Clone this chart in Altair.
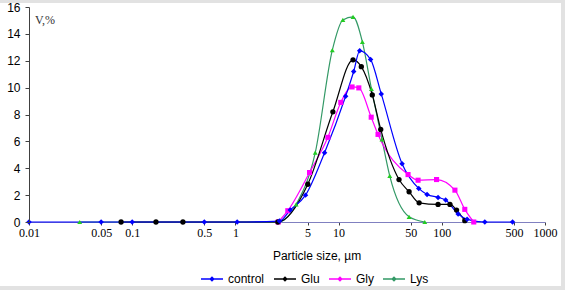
import altair as alt
import pandas as pd

series_names = ["control", "Glu", "Gly", "Lys"]

control_size = [0.01, 0.05, 0.1, 0.5, 1.04, 2.67, 3.4, 4.78, 7.31, 11.7, 14.0, 16.0, 20.4, 25.9, 41.2, 59.8, 72, 92, 109, 144, 176, 261, 485]
control_v = [0, 0, 0, 0, 0, 0.07, 0.89, 2.0, 5.16, 9.36, 11.2, 12.74, 12.1, 9.53, 4.34, 2.5, 2.05, 1.83, 1.63, 0.59, 0.2, 0, 0]

glu_size = [0.078, 0.17, 0.31, 2.58, 5.03, 8.8, 13.8, 16.6, 21.2, 25.6, 38.5, 48.2, 60.3, 92, 120, 139, 167]
glu_v = [0, 0, 0, 0, 2.81, 8.2, 12.07, 11.56, 9.46, 6.89, 3.16, 2.25, 1.43, 1.31, 1.31, 0.89, 0.1]

gly_size = [2.6, 3.22, 5.23, 7.87, 10.5, 13.5, 15.7, 20.7, 24.1, 47.1, 58.9, 89, 134, 167, 204]
gly_v = [0, 0.84, 3.68, 6.3, 8.9, 10.05, 9.98, 7.8, 6.52, 3.53, 3.11, 3.16, 2.37, 0.94, 0]

lys_size = [0.031, 2.6, 3.88, 5.94, 8.69, 11.0, 13.8, 17.0, 20.8, 26.3, 31.3, 48.2, 68.4]
lys_v = [0, 0, 1.31, 5.16, 12.79, 15.04, 15.26, 13.4, 9.9, 6.15, 3.43, 0.39, 0]

x_ticks = [0.01, 0.05, 0.1, 0.5, 1, 5, 10, 50, 100, 500, 1000]
y_ticks = [0, 2, 4, 6, 8, 10, 12, 14, 16]

line_colors = ["#0000ff", "#000000", "#ff00ff", "#339966"]
marker_colors = ["#0000ff", "#000000", "#ff00ff", "#22cc22"]
marker_shapes = ["diamond", "circle", "square", "triangle-up"]
marker_sizes = [30, 24, 11, 26]

rows = []
for name, xs, ys in [("Lys", lys_size, lys_v), ("Gly", gly_size, gly_v),
                     ("Glu", glu_size, glu_v), ("control", control_size, control_v)]:
    for x, y in zip(xs, ys):
        rows.append({"series": name, "size": x, "v": y})
df = pd.DataFrame(rows)

x_enc = alt.X(
    "size:Q",
    scale=alt.Scale(type="log", domain=[0.01, 1000], nice=False),
    axis=alt.Axis(
        values=x_ticks, format="~g", title="Particle size, µm", grid=False,
        domainColor="#8080c0", tickColor="#404040", tickSize=3,
        labelFont="Liberation Serif", labelFontSize=12, labelColor="#000000",
        labelPadding=2, labelFlush=False, labelOverlap=False,
        titleFont="Liberation Sans", titleFontSize=12, titleFontWeight="normal",
        titleColor="#000000", titleX=287.5, titleY=33, titleBaseline="middle",
        zindex=0,
    ),
)
y_enc = alt.Y(
    "v:Q",
    scale=alt.Scale(domain=[0, 16], nice=False),
    axis=alt.Axis(
        values=y_ticks, title=None, grid=False,
        domainColor="#404040", tickColor="#404040", tickSize=4,
        labelFont="Liberation Sans", labelFontSize=12, labelColor="#000000",
        labelPadding=5, zindex=1,
    ),
)

base = alt.Chart(df)

lines = base.mark_line(interpolate="monotone", strokeWidth=1.2).encode(
    x=x_enc, y=y_enc,
    color=alt.Color(
        "series:N",
        scale=alt.Scale(domain=series_names, range=line_colors),
        legend=alt.Legend(
            orient="none", legendX=171, legendY=260, direction="horizontal",
            title=None,
            symbolType="M-1,0L1,0M0,-0.16L0.16,0L0,0.16L-0.16,0Z",
            symbolSize=484, symbolStrokeWidth=1.4,
            labelFont="Liberation Sans", labelFontSize=12, labelColor="#000000",
            labelOffset=4, columnPadding=6, padding=0,
        ),
    ),
    detail="series:N",
)

points = base.mark_point(filled=True, opacity=1).encode(
    x=x_enc, y=y_enc,
    color=alt.Color("series:N", scale=alt.Scale(domain=series_names, range=marker_colors), legend=None),
    shape=alt.Shape("series:N", scale=alt.Scale(domain=series_names, range=marker_shapes), legend=None),
    size=alt.Size("series:N", scale=alt.Scale(domain=series_names, range=marker_sizes), legend=None),
)

ytitle = alt.Chart(pd.DataFrame({"k": [0]})).mark_text(
    font="Liberation Serif", fontSize=12, align="left", baseline="middle", color="#333333"
).encode(x=alt.value(6), y=alt.value(13), text=alt.value("V,%"))

one = pd.DataFrame({"k": [0]})
border_top = alt.Chart(one).mark_rect(color="#e2e2e2").encode(
    x=alt.value(-29), x2=alt.value(536), y=alt.value(-7), y2=alt.value(-4))
border_right = alt.Chart(one).mark_rect(color="#e2e2e2").encode(
    x=alt.value(532), x2=alt.value(536), y=alt.value(-7), y2=alt.value(283))
border_bottom = alt.Chart(one).mark_rect(color="#e2e2e2").encode(
    x=alt.value(-29), x2=alt.value(536), y=alt.value(279), y2=alt.value(283))

chart = alt.layer(lines, points, ytitle, border_top, border_right, border_bottom).resolve_scale(
    color="independent", shape="independent", size="independent"
).properties(
    width=516, height=215,
    padding={"left": 29, "top": 7, "right": 20, "bottom": 68},
    autosize="none",
    background="#ffffff",
).configure_view(stroke=None)

chart.save("out.html", embed_options={"renderer": "svg", "actions": False})
